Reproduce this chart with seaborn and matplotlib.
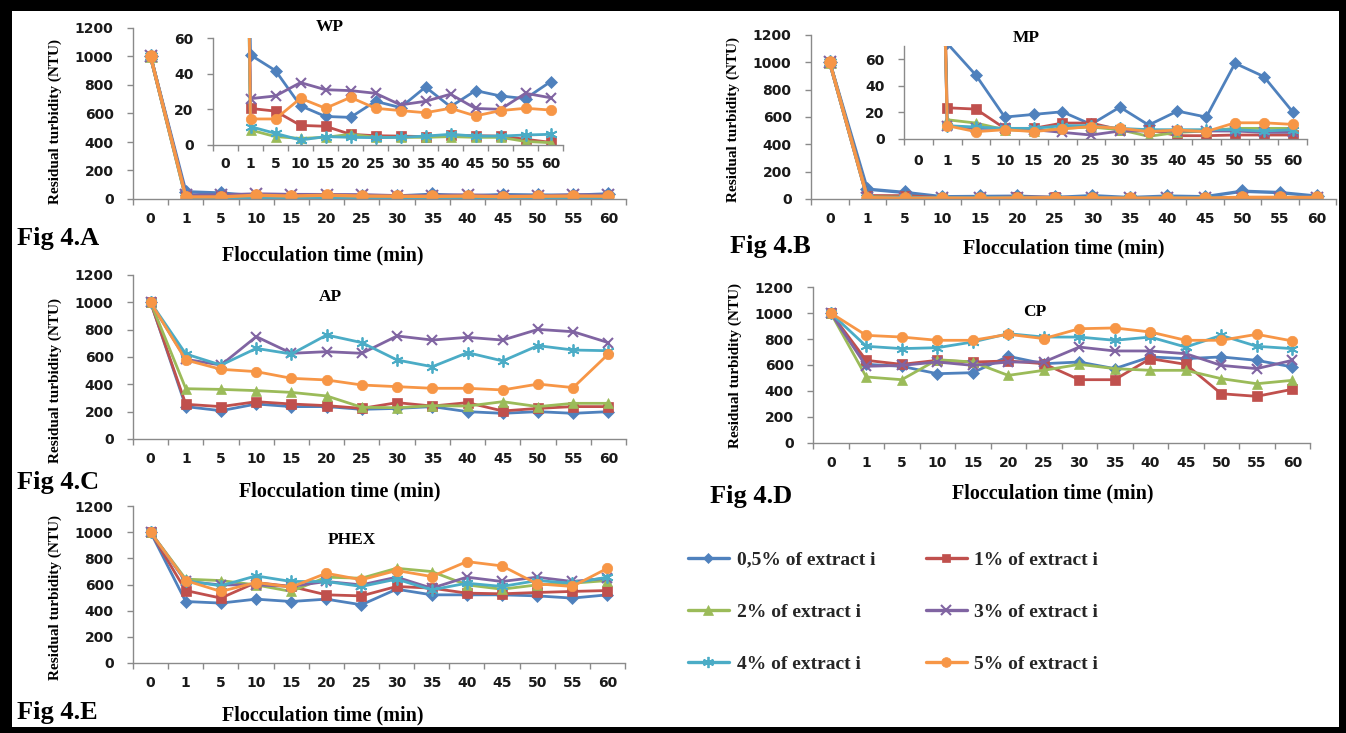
import numpy as np
import matplotlib
matplotlib.use("Agg")
import matplotlib.pyplot as plt
from matplotlib.patches import Rectangle
from matplotlib.lines import Line2D
import seaborn as sns

# flocculation times (categories) and series
times = ["0", "1", "5", "10", "15", "20", "25", "30", "35", "40", "45", "50", "55", "60"]
labels = ["0,5% of extract i", "1% of extract i", "2% of extract i",
          "3% of extract i", "4% of extract i", "5% of extract i"]

# residual turbidity (NTU), one list per dose
wp = [
    [1000, 50.5, 41.7, 22, 16, 15.5, 24.5, 21, 32.5, 21.5, 30.5, 27.5, 26, 35.5],
    [1000, 20.5, 19, 11, 10.5, 6, 5.2, 5, 4.7, 5.5, 5.2, 5, 3.2, 1.5],
    [1000, 8.4, 4.7, 3.7, 4.3, 6, 4.3, 4.3, 4.3, 4.7, 4.3, 4.3, 2, 1.3],
    [1000, 26, 27.5, 35, 31, 30.5, 29, 22.5, 24.5, 28.5, 20.5, 20, 29, 26.5],
    [1000, 10.3, 6.5, 2.8, 4.7, 4.3, 4.1, 4.3, 5, 6, 5, 5, 5.6, 6],
    [1000, 14.6, 14.6, 26.2, 20.6, 26.7, 20.6, 19.3, 18.1, 20.6, 16.3, 19.3, 20.6, 19.6],
]
mp = [
    [1000, 72, 48, 16.5, 18.5, 20.5, 11, 24, 10.5, 21, 16.5, 57, 47, 20.5],
    [1000, 23.5, 22.5, 8, 8, 12, 12, 7, 7, 2.5, 2.5, 3, 3, 3],
    [1000, 14.5, 12, 7, 6, 8, 9, 7, 2, 5, 6, 8, 8, 8],
    [1000, 10, 8, 8, 7, 5, 3, 6, 6, 6, 6, 6, 5, 5],
    [1000, 10, 9, 8, 8, 10, 10, 8, 7, 7, 7, 7, 6, 7],
    [1000, 10, 5.5, 7, 5.6, 7.6, 9.4, 8.1, 5.6, 6.8, 5.6, 12.2, 12.2, 11],
]
ap = [
    [1000, 237, 207, 256, 237, 237, 217, 224, 237, 200, 188, 200, 188, 200],
    [1000, 254, 237, 273, 256, 244, 224, 266, 241, 266, 205, 224, 237, 237],
    [1000, 368, 363, 354, 341, 315, 232, 229, 244, 241, 273, 237, 261, 261],
    [1000, 583, 541, 749, 627, 639, 627, 754, 724, 744, 724, 802, 785, 705],
    [1000, 622, 541, 663, 622, 761, 705, 578, 529, 632, 571, 683, 651, 646],
    [1000, 578, 510, 493, 444, 432, 395, 383, 371, 371, 359, 402, 376, 622],
]
cp = [
    [1000, 605, 590, 533, 541, 667, 610, 623, 572, 662, 649, 662, 636, 585],
    [1000, 636, 605, 636, 623, 631, 610, 487, 487, 649, 605, 379, 359, 413],
    [1000, 508, 487, 641, 623, 520, 559, 605, 572, 559, 559, 495, 456, 482],
    [1000, 590, 597, 623, 597, 623, 623, 738, 708, 708, 687, 597, 572, 636],
    [1000, 744, 726, 733, 777, 841, 815, 815, 790, 815, 738, 828, 744, 726],
    [1000, 828, 815, 790, 790, 836, 803, 879, 885, 854, 790, 790, 836, 785],
]
phex = [
    [1000, 470, 458, 488, 470, 488, 445, 564, 521, 521, 521, 513, 496, 521],
    [1000, 554, 496, 615, 585, 521, 513, 585, 572, 534, 529, 539, 547, 554],
    [1000, 641, 630, 597, 547, 656, 648, 724, 699, 597, 564, 597, 610, 630],
    [1000, 623, 597, 597, 585, 623, 597, 656, 572, 656, 623, 656, 623, 648],
    [1000, 630, 590, 666, 623, 623, 585, 641, 559, 610, 585, 630, 610, 656],
    [1000, 630, 547, 615, 580, 686, 636, 707, 661, 775, 742, 605, 585, 724],
]

colors = ["#4F81BD", "#C0504D", "#9BBB59", "#8064A2", "#4BACC6", "#F79646"]
markers = ["D", "s", "^", "x", (6, 2, 0), "o"]
msize = [0.8, 0.9, 1.0, 0.95, 1.15, 1.0]
mew = [0.5, 0.5, 0.5, 1.5, 1.3, 0.5]

sns.set_style("ticks")
plt.rcParams["font.family"] = ["DejaVu Sans"]
plt.rcParams["font.weight"] = "bold"

W, H = 1346, 733
fig = plt.figure(figsize=(W / 100, H / 100), dpi=100)
fig.patch.set_facecolor("black")
fig.patches.append(Rectangle((12 / W, 1 - 727 / H), (1339 - 12) / W, (727 - 11) / H,
                             transform=fig.transFigure, facecolor="white",
                             edgecolor="none", zorder=-1))

gray = "#8a8a8a"
x = np.arange(len(times))


def rect(l, t, r, b):
    return [l / W, 1 - b / H, (r - l) / W, (b - t) / H]


def draw(ax, data, lw, ms):
    for i, vals in enumerate(data):
        sns.lineplot(x=x, y=vals, ax=ax, color=colors[i], marker=markers[i],
                     linewidth=lw, markersize=ms * msize[i],
                     markeredgecolor=colors[i], markeredgewidth=mew[i],
                     legend=False, estimator=None)


def style(ax, ymax, yticks, xpad=9.5, ypad=10):
    ax.set_facecolor("none")
    ax.set_xlim(-0.5, 13.5)
    ax.set_ylim(0, ymax)
    ax.set_yticks(yticks)
    ax.set_xticks(np.arange(-0.5, 14, 1))
    ax.set_xticklabels([])
    ax.set_xticks(x, minor=True)
    ax.set_xticklabels(times, minor=True)
    ax.tick_params(axis="x", which="major", length=4, color=gray, width=1)
    ax.tick_params(axis="x", which="minor", length=0, pad=xpad, labelsize=10,
                   labelcolor="#1a1a1a")
    ax.tick_params(axis="y", length=4, color=gray, width=1, pad=ypad,
                   labelsize=10, labelcolor="#1a1a1a")
    for s in ["top", "right"]:
        ax.spines[s].set_visible(False)
    for s in ["left", "bottom"]:
        ax.spines[s].set_color(gray)
        ax.spines[s].set_linewidth(1)
    ax.set_xlabel("")
    ax.set_ylabel("")


def ftext(px, py, s, size, ha="center", rot=0):
    fig.text(px / W, 1 - py / H, s, ha=ha, va="center", rotation=rot,
             family="Liberation Serif", weight="bold", size=size, color="black")


main_ticks = [0, 200, 400, 600, 800, 1000, 1200]

# Fig 4.A  WP
ax = fig.add_axes(rect(133, 28, 626, 199))
draw(ax, wp, 2.4, 8.5)
style(ax, 1200, main_ticks)
ins = fig.add_axes(rect(213, 38, 563, 145))
draw(ins, wp, 2.0, 7.5)
style(ins, 60, [0, 20, 40, 60], xpad=9)

# Fig 4.B  MP
ax = fig.add_axes(rect(811, 35, 1336, 199))
draw(ax, mp, 2.4, 8.5)
style(ax, 1200, main_ticks)
ins = fig.add_axes(rect(904, 46, 1307, 139))
draw(ins, mp, 2.0, 7.5)
style(ins, 70, [0, 20, 40, 60], xpad=11)

# Fig 4.C  AP
ax = fig.add_axes(rect(133, 275, 626, 439))
draw(ax, ap, 2.0, 7.5)
style(ax, 1200, main_ticks)

# Fig 4.D  CP
ax = fig.add_axes(rect(813, 287, 1310, 443))
draw(ax, cp, 2.0, 7.5)
style(ax, 1200, main_ticks)

# Fig 4.E  PHEX
ax = fig.add_axes(rect(133, 506, 625, 663))
draw(ax, phex, 2.0, 7.5)
style(ax, 1200, main_ticks)

# titles, axis labels and panel tags
ftext(330, 27, "WP", 12.5)
ftext(1026, 38, "MP", 12.5)
ftext(330, 297, "AP", 12.5)
ftext(1035, 312, "CP", 12.5)
ftext(352, 540, "PHEX", 12.5)

for px, py in [(55, 122), (733, 120), (55, 380), (735, 366), (55, 598)]:
    ftext(px, py, "Residual turbidity (NTU)", 11, rot=90)
for px, py in [(323, 255), (1064, 248), (340, 491), (1053, 493), (323, 715)]:
    ftext(px, py, "Flocculation time (min)", 14.5)
for px, py, s in [(17, 238, "Fig 4.A"), (730, 247, "Fig 4.B"), (17, 482, "Fig 4.C"),
                  (710, 497, "Fig 4.D"), (17, 712, "Fig 4.E")]:
    ftext(px, py, s, 19, ha="left")

# legend, three rows of two
handles = [Line2D([], [], color=colors[i], marker=markers[i], linewidth=2.4,
                  markersize=7 * msize[i], markeredgecolor=colors[i],
                  markeredgewidth=mew[i]) for i in range(6)]
order = [0, 2, 4, 1, 3, 5]
fig.legend([handles[i] for i in order], [labels[i] for i in order], ncol=2,
           loc="upper left", bbox_to_anchor=(688 / W, 1 - 551 / H), frameon=False,
           prop=dict(family="Liberation Serif", weight="bold", size=14),
           handlelength=2.1, handletextpad=0.4, columnspacing=2.6,
           labelspacing=1.78, borderpad=0, borderaxespad=0)

fig.savefig("out.png", dpi=100, facecolor=fig.get_facecolor())
